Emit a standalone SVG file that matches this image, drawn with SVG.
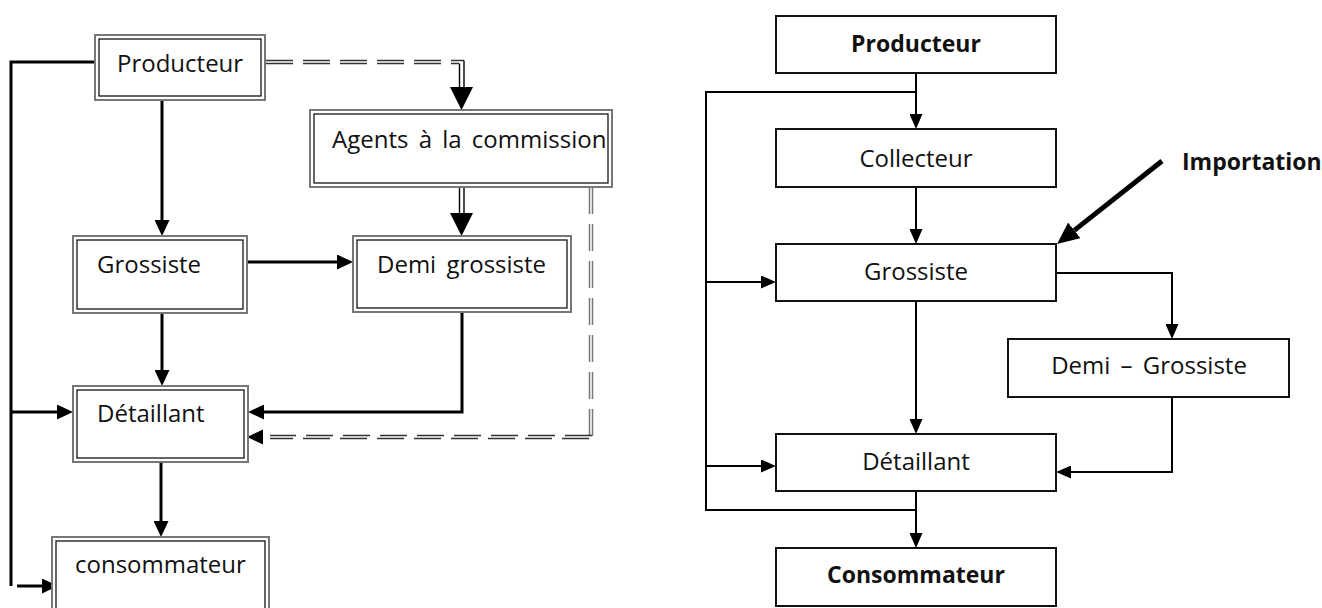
<svg xmlns="http://www.w3.org/2000/svg" width="1322" height="608" viewBox="0 0 1322 608">
<style>
.t{font-family:"Open Sans","Liberation Sans",sans-serif;font-size:24px;fill:#111;word-spacing:4px}
.b{font-weight:bold;font-size:23px}
.c{text-anchor:middle}
.ob{fill:#fff;stroke:#777;stroke-width:2}
.ib{fill:none;stroke:#000;stroke-width:1.2}
.rb{fill:#fff;stroke:#111;stroke-width:2}
.lc{fill:none;stroke:#000;stroke-width:3}
.rc{fill:none;stroke:#000;stroke-width:2}
.dd{fill:none;stroke:#333;stroke-width:1.4;stroke-dasharray:27 10}
.dv{fill:none;stroke:#777;stroke-width:1.5;stroke-dasharray:27 10}
.ds{fill:none;stroke:#000;stroke-width:1.4}
</style>
<defs>
<marker id="aL" viewBox="0 0 16 15" markerWidth="16" markerHeight="15" refX="0" refY="7.5" orient="auto" markerUnits="userSpaceOnUse"><path d="M0,0 L16,7.5 L0,15 z" fill="#000"/></marker>
<marker id="aR" viewBox="0 0 15 13" markerWidth="15" markerHeight="13" refX="0" refY="6.5" orient="auto" markerUnits="userSpaceOnUse"><path d="M0,0 L15,6.5 L0,13 z" fill="#000"/></marker>
<marker id="aB" viewBox="0 0 22 20" markerWidth="22" markerHeight="20" refX="0" refY="10" orient="auto" markerUnits="userSpaceOnUse"><path d="M0,0 L22,10 L0,20 z" fill="#000"/></marker>
</defs>

<g id="connectors">
  <!-- left diagram -->
  <path class="lc" d="M162,100 V220" marker-end="url(#aL)"/>
  <path class="lc" d="M247,262 H337" marker-end="url(#aL)"/>
  <path class="lc" d="M162,313 V370" marker-end="url(#aL)"/>
  <path class="lc" d="M462,312 V412 H264" marker-end="url(#aL)"/>
  <path class="lc" d="M161,462 V521" marker-end="url(#aL)"/>
  <path class="lc" d="M95,62 H11 V586"/>
  <path class="lc" d="M11,412 H57" marker-end="url(#aL)"/>
  <path class="lc" d="M17,586 H42" marker-end="url(#aL)"/>
  <!-- dashed double: Producteur -> Agents -->
  <path class="dd" d="M266,60.5 H464"/>
  <path class="dd" d="M266,63.5 H459"/>
  <path class="ds" d="M459.5,63.5 V88 M464,60.5 V88"/>
  <path d="M450,87 L473,87 L461.5,110 z" fill="#000"/>
  <!-- Agents -> Demi grossiste -->
  <path class="ds" d="M459.5,187 V214 M464,187 V214"/>
  <path d="M450,213 L473,213 L461.5,236 z" fill="#000"/>
  <!-- Agents -> Detaillant dashed -->
  <path class="dv" d="M589.5,187 V436 M592.5,187 V439"/>
  <path class="dd" d="M592,435.5 H270 M589,438.5 H270"/>
  <path d="M263,429.5 L263,444.5 L247,437 z" fill="#000"/>

  <!-- right diagram -->
  <path class="rc" d="M916,73 V114" marker-end="url(#aR)"/>
  <path class="rc" d="M916,92 H706 V510 H916"/>
  <path class="rc" d="M916,187 V229" marker-end="url(#aR)"/>
  <path class="rc" d="M706,282 H761" marker-end="url(#aR)"/>
  <path class="rc" d="M916,301 V419" marker-end="url(#aR)"/>
  <path class="rc" d="M706,466 H761" marker-end="url(#aR)"/>
  <path class="rc" d="M916,491 V533" marker-end="url(#aR)"/>
  <path class="rc" d="M1056,273 H1172 V324" marker-end="url(#aR)"/>
  <path class="rc" d="M1172,397 V472 H1071" marker-end="url(#aR)"/>
  <path d="M1162,161 L1074.3,230.4" fill="none" stroke="#000" stroke-width="5" marker-end="url(#aB)"/>
</g>

<g id="L_producteur">
  <rect class="ob" x="95" y="35" width="170" height="65"/>
  <rect class="ib" x="99" y="39" width="162" height="57"/>
  <text class="t" x="117" y="72">Producteur</text>
</g>
<g id="L_agents">
  <rect class="ob" x="310" y="110" width="302" height="77"/>
  <rect class="ib" x="314" y="114" width="294" height="69"/>
  <text class="t" x="332" y="148">Agents à la commission</text>
</g>
<g id="L_grossiste">
  <rect class="ob" x="73" y="236" width="174" height="77"/>
  <rect class="ib" x="77" y="240" width="166" height="69"/>
  <text class="t" x="97" y="273">Grossiste</text>
</g>
<g id="L_demi">
  <rect class="ob" x="353" y="236" width="218" height="76"/>
  <rect class="ib" x="357" y="240" width="210" height="68"/>
  <text class="t" x="377" y="273">Demi grossiste</text>
</g>
<g id="L_detaillant">
  <rect class="ob" x="73" y="386" width="175" height="76"/>
  <rect class="ib" x="77" y="390" width="167" height="68"/>
  <text class="t" x="97" y="422">Détaillant</text>
</g>
<g id="L_consommateur">
  <rect class="ob" x="52" y="537" width="217" height="90"/>
  <rect class="ib" x="56" y="541" width="209" height="82"/>
  <text class="t" x="75" y="573">consommateur</text>
</g>

<g id="R_producteur">
  <rect class="rb" x="776" y="16" width="280" height="57"/>
  <text class="t b c" x="916" y="52">Producteur</text>
</g>
<g id="R_collecteur">
  <rect class="rb" x="776" y="129" width="280" height="58"/>
  <text class="t c" x="916" y="167">Collecteur</text>
</g>
<g id="R_grossiste">
  <rect class="rb" x="776" y="244" width="280" height="57"/>
  <text class="t c" x="916" y="280">Grossiste</text>
</g>
<g id="R_demi">
  <rect class="rb" x="1008" y="339" width="281" height="58"/>
  <text class="t c" x="1149" y="374">Demi – Grossiste</text>
</g>
<g id="R_detaillant">
  <rect class="rb" x="776" y="434" width="280" height="57"/>
  <text class="t c" x="916" y="470">Détaillant</text>
</g>
<g id="R_consommateur">
  <rect class="rb" x="776" y="548" width="280" height="58"/>
  <text class="t b c" x="916" y="583">Consommateur</text>
</g>
<g id="R_importation">
  <text class="t b" x="1182" y="170">Importation</text>
</g>
</svg>
